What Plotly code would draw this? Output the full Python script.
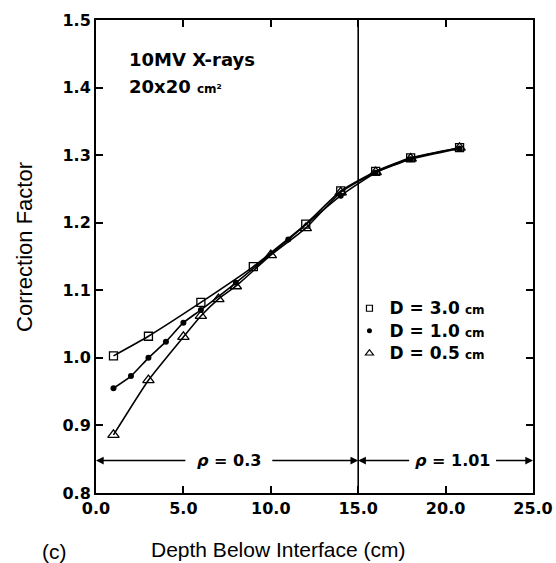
import plotly.graph_objects as go

# ---- data ----
x_d30 = [1, 3, 6, 9, 12, 14, 16, 18, 20.8]
y_d30 = [1.003, 1.032, 1.082, 1.135, 1.198, 1.247, 1.276, 1.296, 1.311]

x_d10 = [1, 2, 3, 4, 5, 6, 8, 11, 14, 16, 18, 20.8]
y_d10 = [0.955, 0.973, 1.000, 1.024, 1.052, 1.071, 1.111, 1.175, 1.240, 1.274, 1.294, 1.310]

x_d05 = [1, 3, 5, 6, 7, 8, 10, 12, 14, 16, 18, 20.8]
y_d05 = [0.886, 0.967, 1.031, 1.062, 1.087, 1.106, 1.152, 1.192, 1.245, 1.275, 1.295, 1.311]

series_names = ["<span style='font-size:17px'>D = 3.0</span> <span style='font-size:12px'>cm</span>",
                "<span style='font-size:17px'>D = 1.0</span> <span style='font-size:12px'>cm</span>",
                "<span style='font-size:17px'>D = 0.5</span> <span style='font-size:12px'>cm</span>"]
x_ticks = [0, 5, 10, 15, 20, 25]
y_ticks = [0.8, 0.9, 1.0, 1.1, 1.2, 1.3, 1.4, 1.5]
interface_depth = 15
region_labels = ["<i>ρ</i> = 0.3", "<i>ρ</i> = 1.01"]

BOLD = dict(family="DejaVu Sans", color="black", weight="bold")
REG = dict(family="Liberation Sans", color="black")

fig = go.Figure()

styles = [
    dict(symbol="square-open", size=8, color="black", line=dict(width=1.3, color="black")),
    dict(symbol="circle", size=6, color="black"),
    dict(symbol="triangle-up-open", size=10, color="black", line=dict(width=1.3, color="black")),
]
legend_styles = [
    dict(symbol="square-open", size=6, color="black", line=dict(width=1.2, color="black")),
    dict(symbol="circle", size=5, color="black"),
    dict(symbol="triangle-up-open", size=7, color="black", line=dict(width=1.2, color="black")),
]
data = [(x_d30, y_d30), (x_d10, y_d10), (x_d05, y_d05)]

for (xs, ys), st, name in zip(data, styles, series_names):
    fig.add_trace(go.Scatter(
        x=xs, y=ys, mode="lines+markers", showlegend=False,
        line=dict(color="black", width=1.6, shape="spline", smoothing=0.5),
        marker=st, name=name, hoverinfo="x+y"))

for st, name in zip(legend_styles, series_names):
    fig.add_trace(go.Scatter(x=[None], y=[None], mode="markers", marker=st,
                             name=name, showlegend=True))

# interface line
fig.add_shape(type="line", x0=interface_depth, x1=interface_depth, y0=0, y1=1,
              xref="x", yref="paper", line=dict(color="black", width=1.6))

# region arrows
arrow_y = 0.848
arrows = [(5.2, 0), (10.0, interface_depth), (18.0, interface_depth), (22.8, 25)]
for tail, head in arrows:
    fig.add_annotation(x=head, y=arrow_y, ax=tail, ay=arrow_y, xref="x", yref="y",
                       axref="x", ayref="y", text="", showarrow=True,
                       arrowhead=2, arrowsize=1.1, arrowwidth=1.4, arrowcolor="black")
fig.add_annotation(x=7.6, y=arrow_y, text=region_labels[0], showarrow=False,
                   font=dict(size=16, **BOLD), xref="x", yref="y")
fig.add_annotation(x=20.4, y=arrow_y, text=region_labels[1], showarrow=False,
                   font=dict(size=16, **BOLD), xref="x", yref="y")

# figure labels
fig.add_annotation(x=1.75, y=1.441, text="10MV X-rays", showarrow=False, xanchor="left",
                   font=dict(size=18, **BOLD), xref="x", yref="y")
fig.add_annotation(x=1.75, y=1.401,
                   text="20x20 <span style='font-size:12px'>cm²</span>",
                   showarrow=False, xanchor="left",
                   font=dict(size=18, **BOLD), xref="x", yref="y")
fig.add_annotation(x=-0.094, y=-0.123, text="(c)", showarrow=False,
                   xanchor="center", yanchor="middle",
                   font=dict(size=21, **REG), xref="paper", yref="paper")

# axis titles (placed to match reference)
fig.add_annotation(x=0.4165, y=-0.1205, text="Depth Below Interface (cm)", showarrow=False,
                   xanchor="center", yanchor="middle",
                   font=dict(size=21, **REG), xref="paper", yref="paper")
fig.add_annotation(x=-0.165, y=0.52, text="Correction Factor", showarrow=False,
                   xanchor="center", yanchor="middle",
                   textangle=-90, font=dict(size=22, **REG), xref="paper", yref="paper")

axis_common = dict(showline=True, linecolor="black", linewidth=2, mirror="allticks",
                   ticks="inside", ticklen=7, tickwidth=2, tickcolor="black",
                   showgrid=False, zeroline=False, automargin=False,
                   tickfont=dict(size=16, **BOLD))

fig.update_layout(
    width=556, height=563,
    margin=dict(l=96, r=23, t=20, b=70, autoexpand=False),
    paper_bgcolor="white", plot_bgcolor="white",
    xaxis=dict(range=[0, 25], tickvals=x_ticks, tickformat=".1f", **axis_common),
    yaxis=dict(range=[0.8, 1.5], tickvals=y_ticks, tickformat=".1f", **axis_common),
    legend=dict(x=0.58, y=0.425, xanchor="left", yanchor="top",
                bgcolor="rgba(0,0,0,0)", font=dict(size=15, **BOLD),
                itemwidth=30, tracegroupgap=0),
)

fig.write_html("out.html")
